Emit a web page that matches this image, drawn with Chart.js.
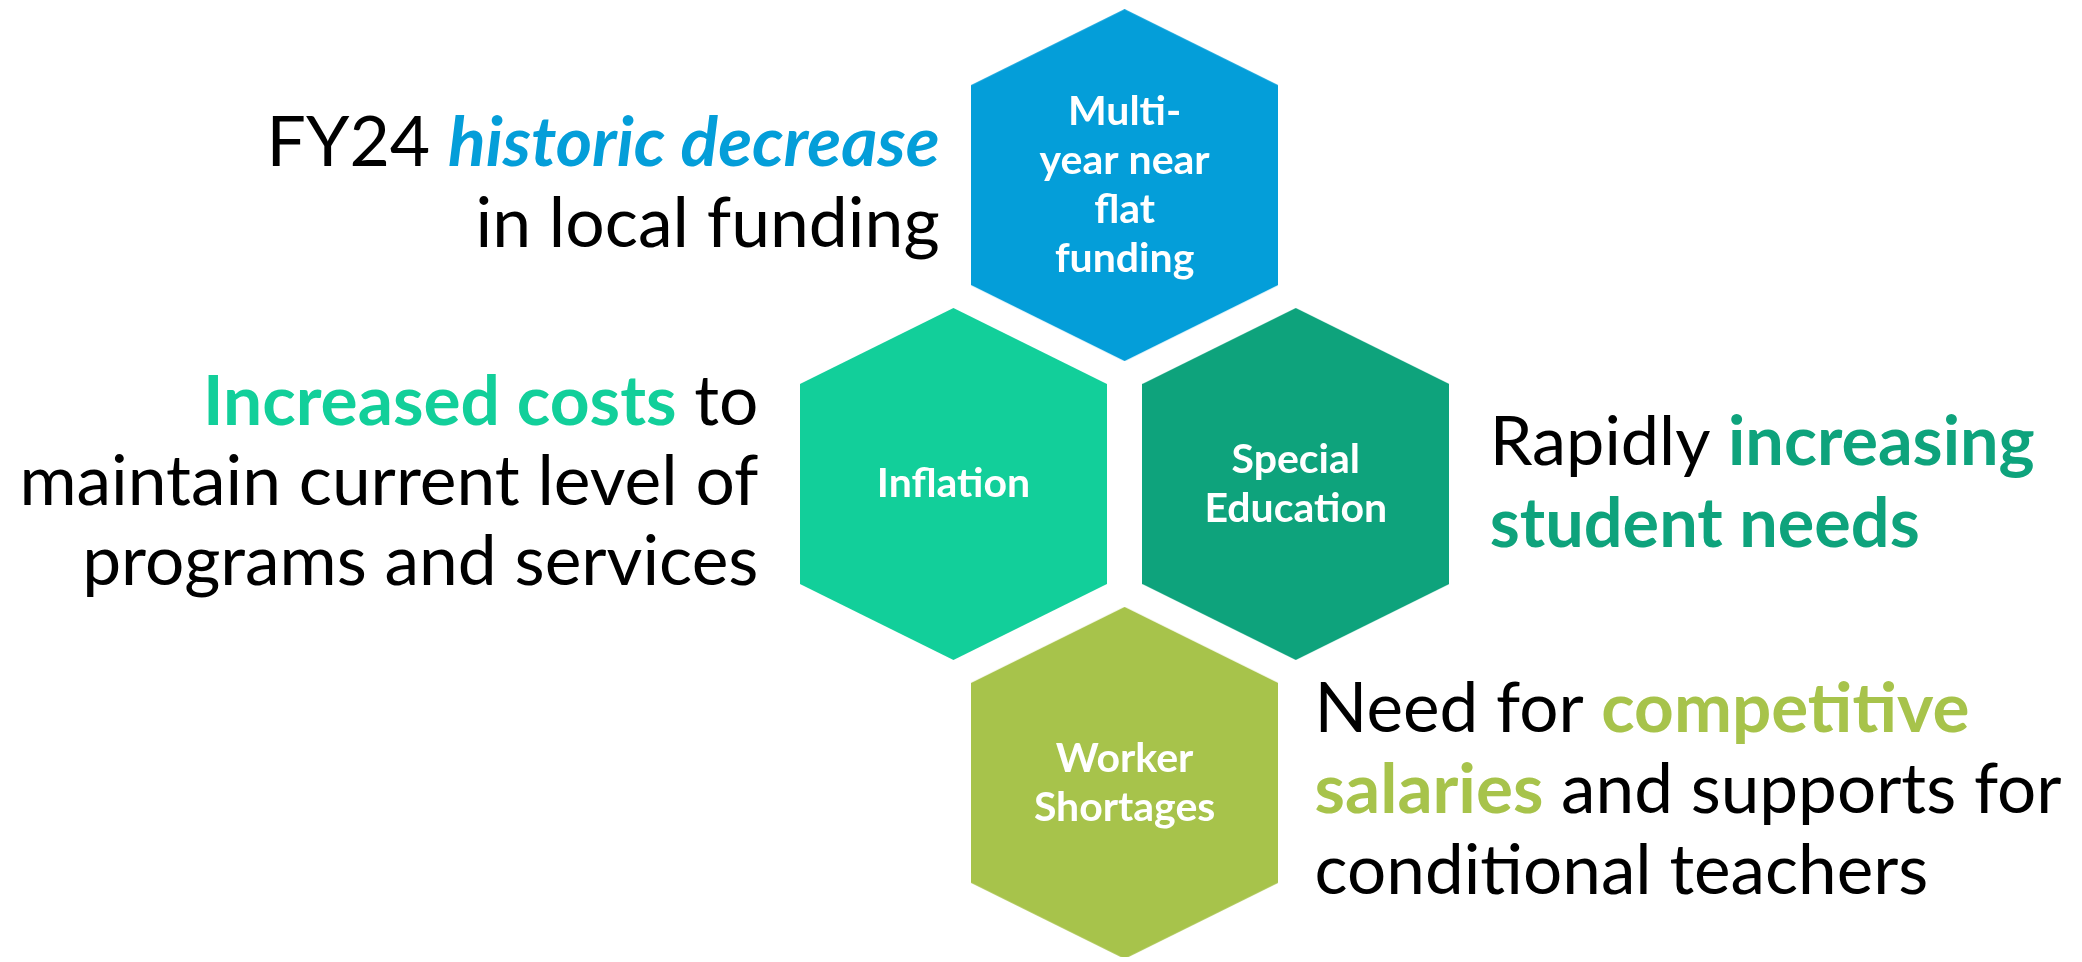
<!DOCTYPE html>
<html>
<head>
<meta charset="utf-8">
<script src="https://cdn.jsdelivr.net/npm/chart.js@4"></script>
<style>
  html, body { margin: 0; background: #fff; }
  #wrap { width: 2082px; height: 962px; position: relative; }
</style>
</head>
<body>
<div id="wrap"><canvas id="chart"></canvas></div>
<script>
// hexagon cells: label lines, grid column / row, fill colour
const categories = ['Multi-year near flat funding', 'Inflation', 'Special Education', 'Worker Shortages']
const hexLines = [['Multi-', 'year near', 'flat', 'funding'], ['Inflation'], ['Special', 'Education'], ['Worker', 'Shortages']]
const hexCol = [0, -0.5, 0.5, 0]
const hexRow = [0, 1, 1, 2]
const hexColors = ['#049ED9', '#12CF9A', '#0EA37C', '#A7C34B']

// side notes, one per cell: lines of [text, highlighted]
const noteLines = [
  [[['FY24 ', 0], ['historic decrease', 1]], [['in local funding', 0]]],
  [[['Increased costs', 1], [' to', 0]], [['maintain current level of', 0]], [['programs and services', 0]]],
  [[['Rapidly ', 0], ['increasing', 1]], [['student needs', 1]]],
  [[['Need for ', 0], ['competitive', 1]], [['salaries', 1], [' and supports for', 0]], [['conditional teachers', 0]]],
]
const noteItalic = [true, false, false, false]

// layout (pixels)
const HEX_W = 307
const HEX_H = 352
const HEX_TIP = 76
const LABEL_LH = 49
const notePos = [
  { align: 'right', dx: -185, dy: -19, lh: 80.5, width: 673 },
  { align: 'right', dx: -195, dy: -59, lh: 80, width: 739 },
  { align: 'left', dx: 194, dy: -19, lh: 82, width: 545 },
  { align: 'left', dx: 190, dy: -51, lh: 81, width: 747 },
]
const FONT = 'Lato, "Open Sans", sans-serif'

const hexImage = (color) => {
  const c = document.createElement('canvas')
  c.width = HEX_W
  c.height = HEX_H
  const g = c.getContext('2d')
  g.fillStyle = color
  g.beginPath()
  g.moveTo(HEX_W / 2, 0)
  g.lineTo(HEX_W, HEX_TIP)
  g.lineTo(HEX_W, HEX_H - HEX_TIP)
  g.lineTo(HEX_W / 2, HEX_H)
  g.lineTo(0, HEX_H - HEX_TIP)
  g.lineTo(0, HEX_TIP)
  g.closePath()
  g.fill()
  return c
}

const segFont = (size, hi, italic) =>
  hi ? `${italic ? 'italic ' : ''}bold ${size}px ${FONT}` : `${size}px ${FONT}`

const lineWidth = (ctx, line, size, italic) =>
  line.reduce((w, [text, hi]) => {
    ctx.font = segFont(size, hi, italic)
    return w + ctx.measureText(text).width
  }, 0)

const textPlugin = {
  id: 'hexText',
  afterDatasetsDraw(chart) {
    const ctx = chart.ctx
    const points = chart.getDatasetMeta(0).data

    // label size fitted so that "Education" is as wide as in the source
    ctx.font = `bold 100px ${FONT}`
    const labelSize = Math.round(100 * 182 / ctx.measureText('Education').width)

    ctx.save()
    points.forEach((pt, i) => {
      // white label centred in the cell
      const lines = hexLines[i]
      ctx.font = `bold ${labelSize}px ${FONT}`
      ctx.fillStyle = '#fff'
      ctx.textAlign = 'center'
      ctx.textBaseline = 'alphabetic'
      lines.forEach((t, k) => {
        const y = pt.y + (k - (lines.length - 1) / 2) * LABEL_LH + labelSize * 0.33
        ctx.fillText(t, pt.x, y)
      })

      // side note
      const pos = notePos[i]
      const note = noteLines[i]
      const italic = noteItalic[i]
      const widest = Math.max(...note.map((l) => lineWidth(ctx, l, 100, italic)))
      const size = 100 * pos.width / widest
      ctx.textAlign = 'left'
      note.forEach((line, k) => {
        const w = lineWidth(ctx, line, size, italic)
        let x = pos.align === 'right' ? pt.x + pos.dx - w : pt.x + pos.dx
        const y = pt.y + pos.dy + k * pos.lh
        line.forEach(([text, hi]) => {
          ctx.font = segFont(size, hi, italic)
          ctx.fillStyle = hi ? hexColors[i] : '#000'
          ctx.fillText(text, x, y)
          x += ctx.measureText(text).width
        })
      })
    })
    ctx.restore()
  },
}

// 1 column = 344px, 1 row = 302px; centre column sits at x = 1125, top row at y = 182
const xMin = -1125 / 344
const xMax = (2082 - 1125) / 344
const yMin = -182 / 302
const yMax = (962 - 182) / 302

new Chart(document.getElementById('chart'), {
  type: 'scatter',
  data: {
    labels: categories,
    datasets: [
      {
        label: 'Pressures',
        data: categories.map((_, i) => ({ x: hexCol[i], y: hexRow[i] })),
        pointStyle: hexColors.map(hexImage),
        pointRadius: 1,
      },
    ],
  },
  options: {
    responsive: true,
    maintainAspectRatio: false,
    animation: false,
    events: [],
    layout: { padding: 0 },
    plugins: { legend: { display: false }, tooltip: { enabled: false } },
    scales: {
      x: { type: 'linear', min: xMin, max: xMax, display: false },
      y: { type: 'linear', min: yMin, max: yMax, reverse: true, display: false },
    },
  },
  plugins: [textPlugin],
})
</script>
</body>
</html>
